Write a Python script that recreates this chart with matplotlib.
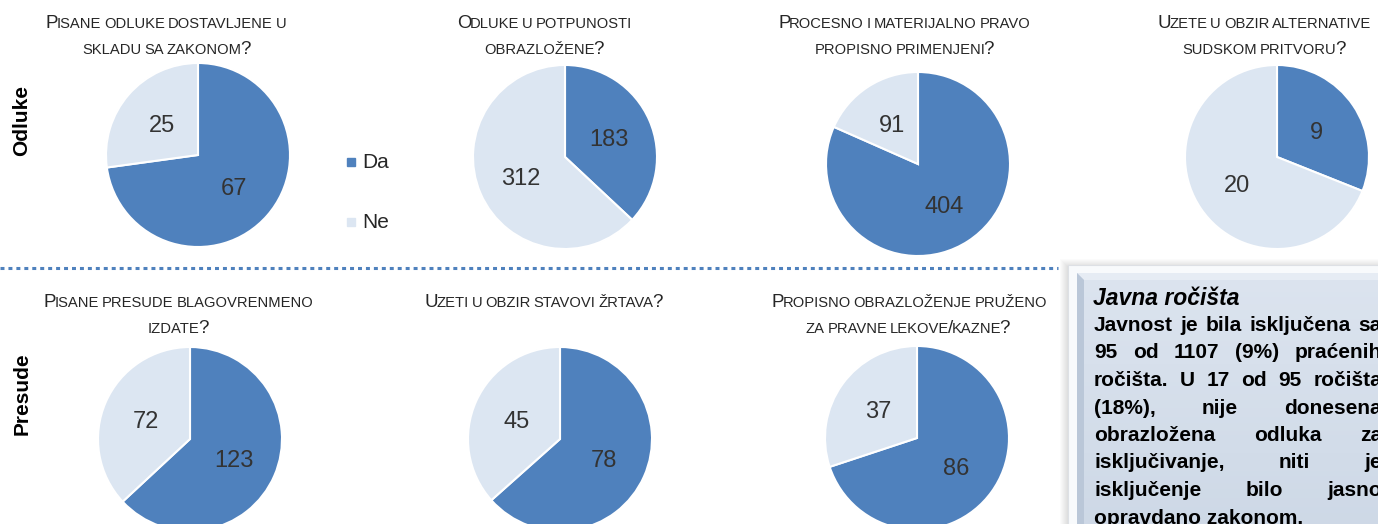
import numpy as np
import matplotlib.pyplot as plt
from matplotlib.patches import Rectangle, Polygon
from matplotlib.colors import to_rgb

plt.rcParams['font.family'] = ['Liberation Sans', 'DejaVu Sans']

W, H = 1378, 524

# pie data: (Da, Ne) counts
odluke_titles = [['Pisane odluke dostavljene u', 'skladu sa zakonom?'],
                 ['Odluke u potpunosti', 'obrazložene?'],
                 ['Procesno i materijalno pravo', 'propisno primenjeni?'],
                 ['Uzete u obzir alternative', 'sudskom pritvoru?']]
odluke_da = [67, 183, 404, 9]
odluke_ne = [25, 312, 91, 20]

presude_titles = [['Pisane presude blagovrenmeno', 'izdate?'],
                  ['Uzeti u obzir stavovi žrtava?'],
                  ['Propisno obrazloženje pruženo', 'za pravne lekove/kazne?']]
presude_da = [123, 78, 86]
presude_ne = [72, 45, 37]

legend_labels = ['Da', 'Ne']
row_labels = ['Odluke', 'Presude']

box_title = 'Javna ročišta'
box_lines = ['Javnost je bila isključena sa',
             '95 od 1107 (9%) praćenih',
             'ročišta. U 17 od 95 ročišta',
             '(18%), nije donesena',
             'obrazložena odluka za',
             'isključivanje, niti je',
             'isključenje bilo jasno']
box_last = 'opravdano zakonom.'

c_da = '#4F81BD'
c_ne = '#DCE6F2'
txt_col = '#262626'

fig = plt.figure(figsize=(W / 100, H / 100), dpi=100)
bg = fig.add_axes([0, 0, 1, 1])
bg.set_xlim(0, W)
bg.set_ylim(H, 0)
bg.axis('off')
renderer = fig.canvas.get_renderer()


def text_width(s, **kw):
    t = bg.text(0, 0, s, **kw)
    w = t.get_window_extent(renderer=renderer).width
    t.remove()
    return w


def small_caps(cx, y, line, big=13.5, small=10.6):
    # fake small caps: lower-case letters drawn as smaller capitals
    sp = 1.25 * (text_width('A A', fontsize=small) - text_width('AA', fontsize=small))
    words = []
    for word in line.split(' '):
        runs = []
        for ch in word:
            size = small if ch.islower() else big
            if runs and runs[-1][1] == size:
                runs[-1][0] += ch.upper()
            else:
                runs.append([ch.upper(), size])
        for run in runs:
            run.append(text_width(run[0], fontsize=run[1]))
        words.append(runs)
    total = sum(r[2] for w in words for r in w) + sp * (len(words) - 1)
    x = cx - total / 2
    for w in words:
        for k, (s, size, wd) in enumerate(w):
            bg.text(x, y, s, fontsize=size, color=txt_col, ha='left', va='baseline')
            x += wd
            if k < len(w) - 1:
                x -= 1.5
        x += sp


def draw_pie(cx, cy, da, ne, r=92, pad=100):
    ax = fig.add_axes([(cx - pad) / W, 1 - (cy + pad) / H, 2 * pad / W, 2 * pad / H])
    total = da + ne
    _, _, autotexts = ax.pie([da, ne], colors=[c_da, c_ne], startangle=90, counterclock=False,
                             autopct=lambda p: f'{p * total / 100:.0f}', pctdistance=0.52,
                             wedgeprops=dict(edgecolor='white', linewidth=1.5),
                             textprops=dict(fontsize=17, color='#333333'))
    for t in autotexts:
        t.set_va('center_baseline')
    ax.set_xlim(-pad / r, pad / r)
    ax.set_ylim(-pad / r, pad / r)
    ax.set_aspect('equal')


# top row
top_cx = [198, 565, 918, 1277]
top_cy = [155, 157, 164, 157]
top_tx = [167, 545, 905, 1265]
for i in range(4):
    draw_pie(top_cx[i], top_cy[i], odluke_da[i], odluke_ne[i])
    for j, line in enumerate(odluke_titles[i]):
        small_caps(top_tx[i], 28 + 26 * j, line)

# bottom row
bot_cx = [190, 560, 917]
bot_cy = [439, 439, 438]
bot_tx = [179, 545, 910]
for i in range(3):
    draw_pie(bot_cx[i], bot_cy[i], presude_da[i], presude_ne[i])
    for j, line in enumerate(presude_titles[i]):
        small_caps(bot_tx[i], 307 + 26 * j, line)

# row labels
bg.text(22, 121, row_labels[0], rotation=90, ha='center', va='center',
        fontsize=15, fontweight='bold', color='black')
bg.text(22, 394, row_labels[1], rotation=90, ha='center', va='center',
        fontsize=15, fontweight='bold', color='black')

# legend
for k, (lab, col) in enumerate(zip(legend_labels, [c_da, c_ne])):
    yy = 162 + 60 * k
    bg.add_patch(Rectangle((347, yy - 4), 8, 8, color=col))
    bg.text(362, yy, lab, fontsize=15, va='center', ha='left', color=txt_col)

# dotted separator
bg.plot([0, 1058], [268, 268], color=c_da, lw=2.2, linestyle=(0, (1.3, 1.3)),
        dash_capstyle='butt')

# text box with shadow
x0, y0 = 1068, 265
for i in range(8):
    bg.add_patch(Rectangle((x0 - 8 + i, y0 - 6 + i), 400, 300, color='#000000',
                           alpha=0.015, lw=0))
bg.add_patch(Rectangle((x0, y0), 400, 300, fc='#F8FAFC', ec='#DDE0E5', lw=0.8))
ix, iy = 1077, 273
c1 = np.array(to_rgb('#DCE4EF'))
c2 = np.array(to_rgb('#CDD8E6'))
grad = np.linspace(0, 1, 100)[:, None, None] * (c2 - c1) + c1
bg.imshow(grad, extent=(ix, W + 20, H + 20, iy), aspect='auto', zorder=2)
bg.add_patch(Polygon([(ix, iy), (W + 20, iy), (W + 20, iy + 7), (ix + 7, iy + 7)],
                     fc='#E6ECF4', lw=0, zorder=3))
bg.add_patch(Polygon([(ix, iy), (ix + 7, iy + 7), (ix + 7, H + 20), (ix, H + 20)],
                     fc='#BAC7D8', lw=0, zorder=3))
bg.set_xlim(0, W)
bg.set_ylim(H, 0)

bg.text(1093, 305, box_title, fontsize=16.5, fontweight='bold', fontstyle='italic',
        color='black', va='baseline', zorder=5)

# justified body text
body_kw = dict(fontsize=15, fontweight='bold', color='black', va='baseline', zorder=5)
xl, xr = 1094, 1382
for k, line in enumerate(box_lines):
    y = 331 + 27.5 * k
    words = line.split(' ')
    widths = [text_width(w, **body_kw) for w in words]
    gap = (xr - xl - sum(widths)) / (len(words) - 1)
    x = xl
    for w, wd in zip(words, widths):
        bg.text(x, y, w, ha='left', **body_kw)
        x += wd + gap
bg.text(xl, 331 + 27.5 * len(box_lines), box_last, ha='left', **body_kw)

fig.savefig('out.png', dpi=100)
